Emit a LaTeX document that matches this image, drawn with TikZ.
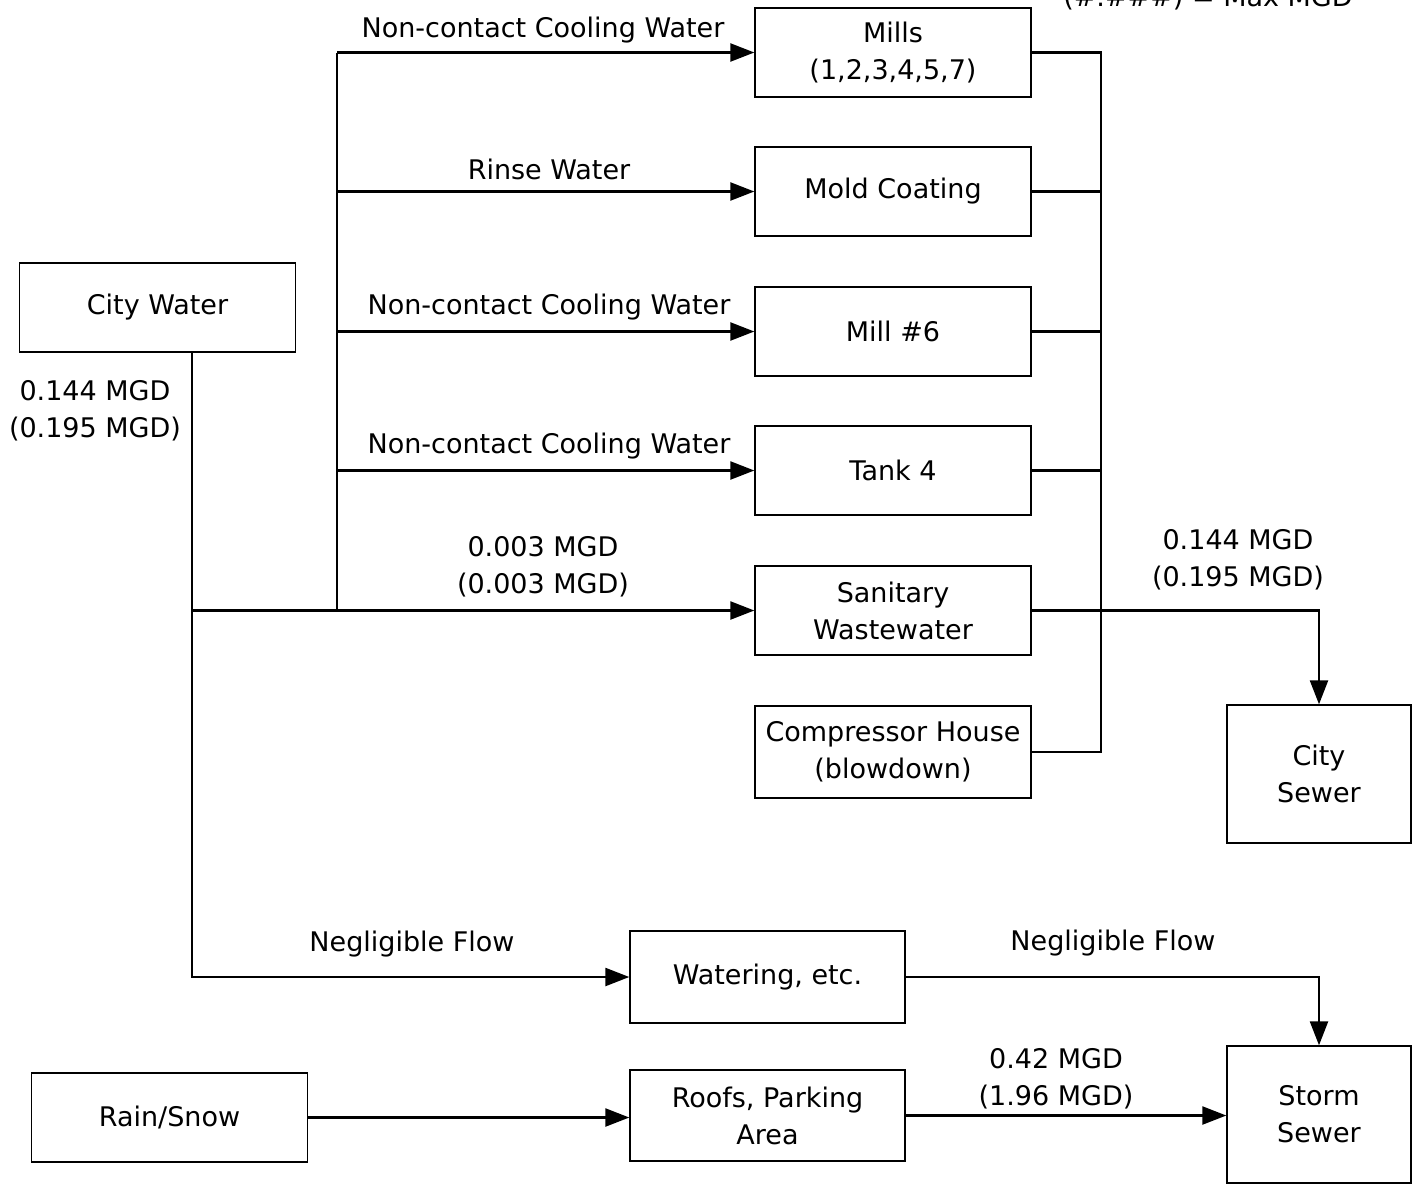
\documentclass[tikz,border=0pt]{standalone}
\usepackage{fontspec}
\setmainfont{DejaVu Sans}
\usetikzlibrary{arrows.meta}

\tikzset{
  box/.style={rectangle, draw, line width=0.7pt, align=center, minimum width=138pt, minimum height=44.5pt,
    inner sep=2pt, font=\fontsize{13.5}{18.5}\selectfont},
  lbl/.style={align=center, inner sep=0pt, font=\fontsize{13.5}{18.5}\selectfont},
  flow/.style={line width=1.2pt},
  arr/.style={flow, -{Triangle[length=12pt,width=9pt]}}
}

\begin{document}
\begin{tikzpicture}[x=0.5pt, y=-0.5pt]
      \clip (0,0) rectangle (1419,1184);

      % process boxes
      \node (mills) [box] at (893,52.5) {Mills\\ (1,2,3,4,5,7)};
      \node (mold) [box] at (893,191.5) {Mold Coating};
      \node (mill6) [box] at (893,331.5) {Mill \#6};
      \node (tank4) [box] at (893,470.5) {Tank 4};
      \node (sanitary) [box] at (893,610.5) {Sanitary\\ Wastewater};
      \node (compressor) [box, minimum height=46pt] at (893,752) {Compressor House\\ (blowdown)};

      \node (citywater) [box] at (157.5,307.5) {City Water};
      \node (citysewer) [box, minimum width=92pt, minimum height=69pt] at (1319,774) {City\\ Sewer};
      \node (watering) [box, minimum width=137.5pt, minimum height=46pt] at (767.5,977) {Watering, etc.};
      \node (rain) [box] at (169.5,1117.5) {Rain/Snow};
      \node (roofs) [box, minimum width=137.5pt, minimum height=45.5pt] at (767.5,1115.5) {Roofs, Parking\\ Area};
      \node (stormsewer) [box, minimum width=92pt, minimum height=68.5pt] at (1319,1114.5) {Storm\\ Sewer};

      % legend, cut at the top edge
      \node (legend) [lbl, anchor=base] at (1208,6) {(\#.\#\#\#) = Max MGD};

      % bus lines
      \coordinate (trunk) at (192,0);
      \coordinate (lbus) at (337,0);
      \coordinate (rbus) at (1101,0);

      % city water supply
      \draw[arr] (citywater.south -| trunk) |- (watering.west);
      \draw[arr] (sanitary.west -| trunk) -- (sanitary.west);
      \draw[flow] (sanitary.west -| lbus) -- (mills.west -| lbus);
      \draw[arr] (mills.west -| lbus) -- (mills.west);
      \draw[arr] (mold.west -| lbus) -- (mold.west);
      \draw[arr] (mill6.west -| lbus) -- (mill6.west);
      \draw[arr] (tank4.west -| lbus) -- (tank4.west);

      % collection to city sewer
      \draw[flow] (mills.east) -- (mills.east -| rbus) -- (compressor.east -| rbus) -- (compressor.east);
      \draw[flow] (mold.east) -- (mold.east -| rbus);
      \draw[flow] (mill6.east) -- (mill6.east -| rbus);
      \draw[flow] (tank4.east) -- (tank4.east -| rbus);
      \draw[arr] (sanitary.east) -| (citysewer.north);

      % storm water
      \draw[arr] (watering.east) -| (stormsewer.north);
      \draw[arr] (rain.east) -- (rain.east -| roofs.west);
      \draw[arr] (roofs.east) -- (roofs.east -| stormsewer.west);

      % flow labels
      \node (ncw1) [lbl] at (543,30) {Non-contact Cooling Water};
      \node (rinse) [lbl] at (549,169) {Rinse Water};
      \node (ncw2) [lbl] at (549,307) {Non-contact Cooling Water};
      \node (ncw3) [lbl] at (549,446) {Non-contact Cooling Water};
      \node (sanflow) [lbl] at (543,567) {0.003 MGD\\ (0.003 MGD)};
      \node (cityflow) [lbl] at (95,411) {0.144 MGD\\ (0.195 MGD)};
      \node (sewerflow) [lbl] at (1238,560) {0.144 MGD\\ (0.195 MGD)};
      \node (negl1) [lbl] at (412,944) {Negligible Flow};
      \node (negl2) [lbl] at (1113,943) {Negligible Flow};
      \node (stormflow) [lbl] at (1056,1079) {0.42 MGD\\ (1.96 MGD)};
    \end{tikzpicture}
\end{document}
